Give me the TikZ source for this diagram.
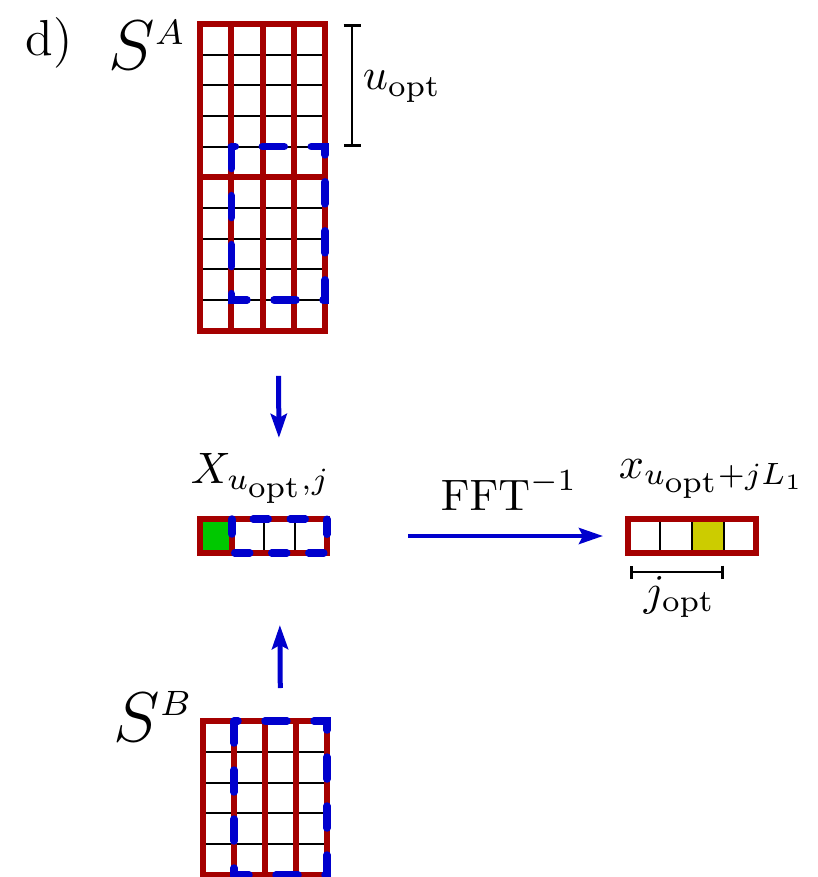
\RequirePackage{fix-cm}
\documentclass[tikz,border=0pt]{standalone}
\usetikzlibrary{arrows.meta}
\definecolor{matred}{RGB}{165,0,0}
\definecolor{optblue}{RGB}{0,0,205}
\definecolor{hitgreen}{RGB}{0,200,0}
\definecolor{peakyellow}{RGB}{204,204,0}
\begin{document}
\begin{tikzpicture}[x=1pt,y=-1pt,
    lbl/.style={anchor=base west, inner sep=0pt, scale=4.4},
    frame/.style={draw=matred, line width=6pt, inner sep=0pt, outer sep=0pt},
    hole/.style={inner sep=0pt, outer sep=0pt},
    redline/.style={matred, line width=6pt},
    cellline/.style={black, line width=2pt},
    window/.style={optblue, line width=7.5pt, line cap=round, dash pattern=on 22pt off 27pt},
    flow/.style={optblue, line width=5pt, -{Stealth[length=24pt,width=16pt,inset=4pt]}},
    brace/.style={black, line width=2.8pt, {Bar[width=17pt]}-{Bar[width=17pt]}}]
    \useasboundingbox (0,0) rectangle (818,877);
    % S^A block
    \foreach \i in {1,2,3,4,6,7,8,9}
        \draw[cellline] (200,24+30.65*\i) -- (325,24+30.65*\i);
    \foreach \k in {1,2,3}
        \draw[redline] (200+31.25*\k,24) -- (200+31.25*\k,330.5);
    \draw[redline] (200,177.25) -- (325,177.25);
    \node[frame, minimum width=125pt, minimum height=306.5pt] (SA) at (262.5,177.25) {};
    \node[hole, minimum width=93.75pt, minimum height=153.25pt] (winA) at (278.125,223.225) {};
    \draw[window] (winA.north west) rectangle (winA.south east);
    \draw[brace] (352,24) -- (352,146.6);
    % X row
    \fill[hitgreen] (200,519) rectangle (231.75,553);
    \foreach \k in {2,3}
        \draw[cellline] (200+31.75*\k,519) -- (200+31.75*\k,553);
    \draw[redline] (231.75,519) -- (231.75,553);
    \node[frame, minimum width=127pt, minimum height=34pt] (rowX) at (263.5,536) {};
    \node[hole, minimum width=95.25pt, minimum height=34pt] (winX) at (279.375,536) {};
    \draw[window, dash pattern=on 15pt off 22pt] (winX.north west) rectangle (winX.south east);
    % x row
    \fill[peakyellow] (692,519) rectangle (724,553);
    \foreach \k in {1,2,3}
        \draw[cellline] (628+32*\k,519) -- (628+32*\k,553);
    \node[frame, minimum width=128pt, minimum height=34pt] (rowY) at (692,536) {};
    \draw[brace, {Bar[width=13pt]}-{Bar[width=13pt]}] (630,572) -- (724,572);
    % S^B block
    \foreach \i in {1,2,3,4}
        \draw[cellline] (203,721+30.8*\i) -- (327,721+30.8*\i);
    \foreach \k in {1,2,3}
        \draw[redline] (203+31*\k,721) -- (203+31*\k,875);
    \node[frame, minimum width=124pt, minimum height=154pt] (SB) at (265,798) {};
    \node[hole, minimum width=93pt, minimum height=154pt] (winB) at (280.5,798) {};
    \draw[window] (winB.north west) rectangle (winB.south east);
    % arrows
    \draw[flow, shorten <=76pt, shorten >=81pt] (winA.south) -- (winX.north);
    \draw[flow, shorten <=33pt, shorten >=72pt] (winB.north) -- (winX.south);
    \draw[flow, line width=4.5pt, shorten <=81pt, shorten >=25pt] (rowX.east) -- (rowY.west);
    % labels
    \node[lbl, font=\fontsize{11.5}{14}\selectfont] (lbld) at (25,56) {d)};
    \node[lbl, font=\fontsize{16}{19}\selectfont] (lblSA) at (108,70) {$S^{\scriptscriptstyle A}$};
    \node[lbl, font=\fontsize{16}{19}\selectfont] (lblSB) at (113,741) {$S^{\scriptscriptstyle B}$};
    \node[lbl] (lblu) at (362,90) {$u_{\mathrm{opt}}$};
    \node[lbl] (lblX) at (190,483) {$X_{u_{\scriptstyle\mathrm{opt}},j}$};
    \node[lbl] (lblF) at (440,510) {$\mathrm{FFT}^{-1}$};
    \node[lbl] (lblx) at (618,478) {$x_{u_{\scriptstyle\mathrm{opt}}+jL_1}$};
    \node[lbl] (lblj) at (643,605) {$j_{\mathrm{opt}}$};
\end{tikzpicture}
\end{document}
